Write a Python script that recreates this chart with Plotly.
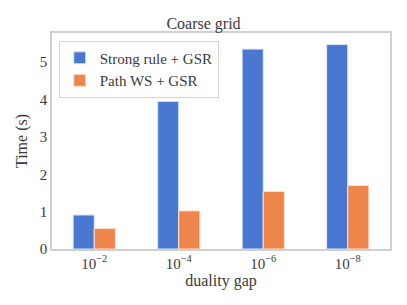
import plotly.graph_objects as go

categories = ["10<sup>−2</sup>", "10<sup>−4</sup>", "10<sup>−6</sup>", "10<sup>−8</sup>"]
strong_rule = [0.91, 3.95, 5.35, 5.47]
path_ws = [0.55, 1.02, 1.54, 1.70]

FONT = "Liberation Serif"
TXT = "#3a3a3a"

fig = go.Figure()
fig.add_trace(go.Bar(x=categories, y=strong_rule, name="Strong rule + GSR",
                     marker=dict(color="#4878d0", line=dict(color="#dfe6f5", width=1))))
fig.add_trace(go.Bar(x=categories, y=path_ws, name="Path WS + GSR",
                     marker=dict(color="#ee854a", line=dict(color="#fbe3d4", width=1))))

fig.update_layout(
    width=407, height=305,
    margin=dict(l=52, r=17, t=33, b=56, autoexpand=False),
    paper_bgcolor="white", plot_bgcolor="white",
    font=dict(family=FONT, size=15, color=TXT),
    barmode="group", bargap=0.5, bargroupgap=0,
    title=dict(text="Coarse grid", x=0.5, xanchor="center", y=0.922, yanchor="middle",
               font=dict(family=FONT, size=16, color=TXT)),
    legend=dict(x=0.02, y=0.965, xanchor="left", yanchor="top",
                bgcolor="white", bordercolor="#d5d5d5", borderwidth=1,
                font=dict(family=FONT, size=15, color=TXT), tracegroupgap=0,
                itemwidth=30),
    showlegend=True,
    xaxis=dict(showline=True, linecolor="#d0d0d0", linewidth=1.5, mirror=True,
               showgrid=False, ticks="", tickfont=dict(family=FONT, size=15),
               title=dict(text="duality gap", standoff=2, font=dict(family=FONT, size=16)),
               range=[-0.5, 3.5]),
    yaxis=dict(showline=True, linecolor="#d0d0d0", linewidth=1.5, mirror=True,
               showgrid=False, ticks="", zeroline=False, tickfont=dict(family=FONT, size=15),
               range=[0, 5.78], tickvals=[0, 1, 2, 3, 4, 5],
               title=dict(text="Time (s)", standoff=8, font=dict(family=FONT, size=16))),
)

fig.write_html("out.html", config={"displayModeBar": False},
               post_script="document.body.style.margin='0';")
